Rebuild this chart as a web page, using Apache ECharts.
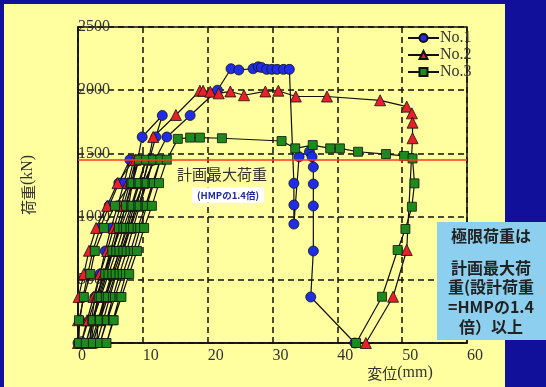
<!DOCTYPE html>
<html>
<head>
<meta charset="utf-8">
<script src="https://cdn.jsdelivr.net/npm/echarts@6/dist/echarts.min.js"></script>
<style>
    html, body { margin: 0; padding: 0; background: #10109a; }
    #chart { width: 546px; height: 387px; }
</style>
</head>
<body>
<div id="chart"></div>
<script>
    // 荷重-変位曲線  [変位(mm), 荷重(kN)]
    var names = ['No.1', 'No.2', 'No.3'];

    var no1 = [
        [0, 0], [0.3, 180], [0.8, 364], [1.5, 546], [2.3, 728], [3.4, 910], [4.8, 1085], [6.3, 1265], [8.0, 1450],
        [7.1, 1265], [6.1, 1085], [5.1, 910], [4.2, 728], [3.4, 546], [2.6, 364], [2.1, 180], [1.8, 0],
        [2.3, 180], [3.4, 364], [4.4, 546], [5.4, 728], [6.4, 910], [7.3, 1085], [8.3, 1265], [9.2, 1450], [9.9, 1630], [13.0, 1800],
        [12.0, 1630], [11.0, 1450], [10.0, 1265], [9.0, 1085], [8.0, 910], [6.9, 728], [5.9, 546], [4.9, 364], [3.9, 180], [2.9, 0],
        [3.1, 180], [4.1, 364], [5.2, 546], [6.4, 728], [7.6, 910], [8.7, 1085], [10.1, 1265], [11.9, 1450], [13.7, 1630], [17.3, 1800], [21.5, 2000],
        [23.6, 2170], [24.8, 2160], [27.0, 2170], [27.8, 2185], [28.3, 2180], [29.1, 2165], [29.9, 2165], [30.7, 2165], [31.7, 2165], [32.6, 2165],
        [33.3, 1263], [33.3, 1092], [33.3, 941], [34.1, 1474], [35.7, 1513], [36.1, 1474], [36.3, 1392], [36.3, 1258], [36.3, 1084], [36.3, 728], [35.9, 364], [42.7, 0]
    ];

    var no2 = [
        [0, 0], [0, 180], [0.1, 364], [0.9, 546], [1.7, 730], [2.8, 910], [4.5, 1085], [6.1, 1265], [8.6, 1450],
        [7.7, 1265], [6.6, 1085], [5.5, 910], [4.5, 728], [3.4, 546], [2.4, 364], [1.4, 180], [0.5, 0],
        [1.6, 180], [2.8, 364], [4.0, 546], [5.3, 728], [6.6, 910], [7.8, 1085], [8.4, 1265], [8.9, 1450],
        [8.0, 1265], [7.0, 1085], [6.0, 910], [5.0, 728], [4.0, 546], [3.0, 364], [2.5, 180], [2.0, 0],
        [3.1, 180], [4.3, 364], [5.5, 546], [6.7, 728], [7.9, 910], [9.0, 1085], [10.0, 1265], [10.9, 1450], [11.6, 1630], [15.1, 1804],
        [18.8, 1996], [19.3, 1996], [20.4, 1988], [21.7, 1975], [23.5, 1990], [25.6, 1960], [28.9, 1990], [30.9, 1996], [33.6, 1950],
        [38.4, 1950], [46.6, 1920], [50.7, 1870], [51.5, 1817], [51.6, 1743], [51.6, 1620], [50.7, 736], [48.6, 366], [44.4, 0]
    ];

    var no3 = [
        [0.15, 0], [0.15, 180], [0.9, 364], [1.9, 546], [2.6, 728], [4.0, 910], [5.7, 1085], [8.2, 1265], [9.4, 1450],
        [8.4, 1265], [7.4, 1085], [6.3, 910], [5.3, 728], [4.2, 546], [3.2, 364], [2.2, 180], [1.2, 0],
        [2.3, 180], [3.5, 364], [4.7, 546], [5.9, 728], [7.0, 910], [8.2, 1085], [9.3, 1265], [10.5, 1450],
        [9.5, 1265], [8.4, 1085], [7.4, 910], [6.4, 728], [5.3, 546], [4.3, 364], [3.3, 180], [2.3, 0],
        [3.4, 180], [4.6, 364], [5.8, 546], [7.0, 728], [8.1, 910], [9.3, 1085], [10.4, 1265], [11.6, 1450],
        [10.6, 1265], [9.5, 1085], [8.5, 910], [7.5, 728], [6.4, 546], [5.4, 364], [4.4, 180], [3.4, 0],
        [4.5, 180], [5.7, 364], [6.9, 546], [8.1, 728], [9.2, 910], [10.4, 1085], [11.5, 1265], [12.7, 1450],
        [11.7, 1265], [10.6, 1085], [9.6, 910], [8.6, 728], [7.4, 546], [6.4, 364], [5.4, 180], [4.4, 0],
        [5.5, 180], [6.7, 364], [7.9, 546], [9.1, 728], [10.2, 910], [11.4, 1085], [12.5, 1265], [13.7, 1450],
        [15.4, 1615], [17.3, 1625], [18.8, 1625], [22.2, 1620], [31.4, 1598], [33.5, 1540], [36.2, 1566], [38.9, 1540],
        [40.4, 1540], [43.2, 1513], [47.5, 1495], [50.3, 1480], [51.6, 1460],
        [51.9, 1263], [51.5, 1078], [50.5, 902], [49.3, 736], [46.9, 366], [42.9, 0]
    ];

    var planMax = 1450;   // 計画最大荷重
    var boxLines = ['極限荷重は', '計画最大荷', '重(設計荷重', '=HMPの1.4', '倍）以上'];
    var boxLineY = [236, 268, 287, 307, 327];

    var serif = '"Liberation Serif", "Times New Roman", serif';
    var jp = '"Noto Sans CJK JP", sans-serif';

    var chart = echarts.init(document.getElementById('chart'));

    function mkSeries(name, data, symbol, size, color) {
        return {
            name: name,
            type: 'line',
            data: data,
            symbol: symbol,
            symbolSize: size,
            clip: false,
            lineStyle: {color: '#111', width: 1.2},
            itemStyle: {color: color, borderColor: '#111', borderWidth: 0.8},
            emphasis: {disabled: true}
        };
    }

    var series = [
        mkSeries(names[0], no1, 'circle', 10, '#1f2ee6'),
        mkSeries(names[1], no2, 'triangle', 11, '#e8202a'),
        mkSeries(names[2], no3, 'rect', 9, '#1e8a1e')
    ];
    series[0].markLine = {
        silent: true,
        symbol: 'none',
        label: {show: false},
        lineStyle: {color: '#ff3a1a', width: 1.5, type: 'solid'},
        data: [{yAxis: planMax}]
    };

    var graphics = [
        {type: 'rect', z: -10, shape: {x: 4, y: 4, width: 501, height: 383}, style: {fill: '#ffffa0'}},
        {type: 'text', z: 50, x: 177, y: 174,
            style: {text: '計画最大荷重', fontFamily: jp, fontSize: 15, fill: '#333', verticalAlign: 'middle'}},
        {type: 'text', z: 50, x: 228, y: 195,
            style: {text: '(HMPの1.4倍)', fontFamily: jp, fontSize: 9.5, fontWeight: 'bold', fill: '#1f2a99',
                align: 'center', verticalAlign: 'middle', backgroundColor: '#ffffff', padding: [3, 5]}},
        {type: 'text', z: 50, x: 400, y: 373,
            style: {text: '{a|変位}{b|(mm)}', align: 'center', verticalAlign: 'middle', fill: '#333',
                rich: {a: {fontFamily: jp, fontSize: 15, fill: '#333'}, b: {fontFamily: serif, fontSize: 16, fill: '#333'}}}},
        {type: 'text', z: 50, x: 28, y: 185, rotation: Math.PI / 2,
            style: {text: '{a|荷重}{b|(kN)}', align: 'center', verticalAlign: 'middle', fill: '#333',
                rich: {a: {fontFamily: jp, fontSize: 15, fill: '#333'}, b: {fontFamily: serif, fontSize: 16, fill: '#333'}}}},
        {type: 'rect', z: 100, shape: {x: 437, y: 222, width: 109, height: 118}, style: {fill: '#8ccfee'}}
    ];
    boxLines.forEach(function (t, i) {
        graphics.push({type: 'text', z: 101, x: 491, y: boxLineY[i],
            style: {text: t, fontFamily: jp, fontSize: 16, fontWeight: 'bold', fill: '#222',
                align: 'center', verticalAlign: 'middle'}});
    });

    var option = {
        backgroundColor: '#10109a',
        animation: false,
        grid: {left: 78, top: 27, right: 79, bottom: 44, show: true, borderColor: '#111', borderWidth: 1.5},
        legend: {
            orient: 'vertical', left: 402, top: 25,
            itemWidth: 31, itemHeight: 10, itemGap: 1,
            textStyle: {fontFamily: serif, fontSize: 16, color: '#333', padding: [0, 0, 0, -4]},
            data: names
        },
        xAxis: {
            type: 'value', min: 0, max: 60, interval: 10,
            axisLine: {show: true, lineStyle: {color: '#111', width: 1.5}},
            axisTick: {show: false},
            splitLine: {show: true, lineStyle: {color: '#111', width: 1.5, type: [6, 4]}},
            axisLabel: {align: 'left', margin: 5, fontFamily: serif, fontSize: 16, color: '#333'}
        },
        yAxis: {
            type: 'value', min: 0, max: 2500, interval: 500,
            axisLine: {show: true, lineStyle: {color: '#111', width: 1.5}},
            axisTick: {show: false},
            splitLine: {show: true, lineStyle: {color: '#111', width: 1.5, type: [6, 4]}},
            axisLabel: {
                inside: true, margin: 0, fontFamily: serif, fontSize: 16, color: '#333',
                formatter: function (v) { return String(v); }
            }
        },
        graphic: graphics,
        series: series
    };

    chart.setOption(option);
    window.addEventListener('resize', function () {
        chart.resize();
    });
</script>
</body>
</html>
